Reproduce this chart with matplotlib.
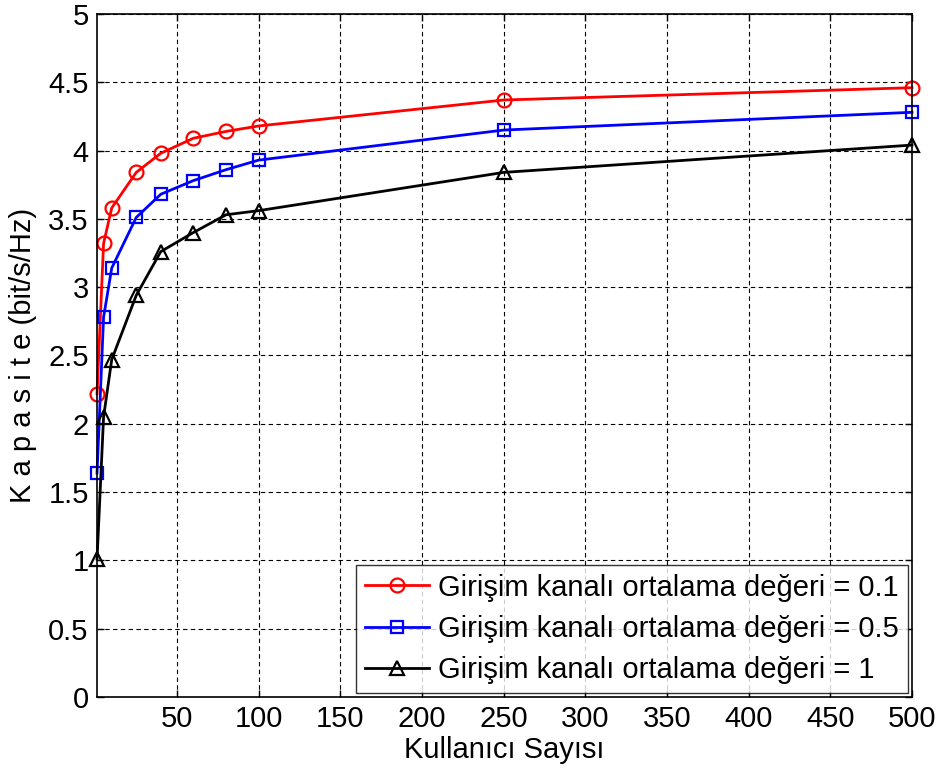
import matplotlib
matplotlib.use("Agg")
import matplotlib.pyplot as plt

plt.rcParams['font.family'] = ['Liberation Sans', 'DejaVu Sans']

users = [1, 5, 10, 25, 40, 60, 80, 100, 250, 500]
cap_01 = [2.22, 3.32, 3.58, 3.84, 3.98, 4.09, 4.14, 4.18, 4.37, 4.46]
cap_05 = [1.64, 2.78, 3.14, 3.51, 3.68, 3.78, 3.86, 3.93, 4.15, 4.28]
cap_1 = [1.01, 2.05, 2.47, 2.94, 3.26, 3.40, 3.53, 3.56, 3.84, 4.04]

labels = [
    "Girişim kanalı ortalama değeri = 0.1",
    "Girişim kanalı ortalama değeri = 0.5",
    "Girişim kanalı ortalama değeri = 1",
]
xticks = [50, 100, 150, 200, 250, 300, 350, 400, 450, 500]
yticks = [0, 0.5, 1, 1.5, 2, 2.5, 3, 3.5, 4, 4.5, 5]
ytick_labels = ["0", "0.5", "1", "1.5", "2", "2.5", "3", "3.5", "4", "4.5", "5"]

fig = plt.figure(figsize=(9.44, 7.74), dpi=100)
ax = fig.add_axes([0.1028, 0.0995, 0.8633, 0.8825])

style = dict(linewidth=2, markeredgewidth=1.6, markerfacecolor='none', clip_on=False)
ax.plot(users, cap_01, color='#ff0000', marker='o', markersize=10, label=labels[0], **style)
ax.plot(users, cap_05, color='#0000ff', marker='s', markersize=8.5, label=labels[1], **style)
ax.plot(users, cap_1, color='#000000', marker='^', markersize=10, label=labels[2], **style)

ax.set_xlim(1, 500)
ax.set_ylim(0, 5)
ax.set_xticks(xticks)
ax.set_yticks(yticks)
ax.set_yticklabels(ytick_labels)
ax.tick_params(direction='in', labelsize=21, length=5, width=1, pad=6,
               top=True, right=True)
ax.grid(True, color='black', linestyle=(0, (4, 3)), linewidth=0.8)
for s in ax.spines.values():
    s.set_linewidth(1.2)

ax.set_xlabel("Kullanıcı Sayısı", fontsize=21, labelpad=2)
ax.set_ylabel("K a p a s i t e (bit/s/Hz)", fontsize=21, labelpad=8)

leg = ax.legend(loc='lower right', fontsize=21, frameon=True, fancybox=False,
                edgecolor='black', handlelength=2.2, handletextpad=0.3,
                borderpad=0.3, labelspacing=0.45, borderaxespad=0.15)
leg.get_frame().set_linewidth(1.0)

fig.savefig("out.png", dpi=100)
